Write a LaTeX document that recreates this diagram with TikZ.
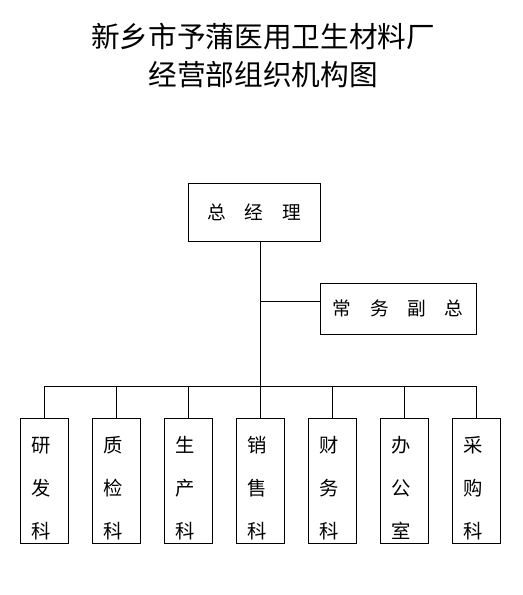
\documentclass[tikz,border=0pt]{standalone}
\usepackage{fontspec}
\setmainfont{Noto Sans CJK SC}
\usetikzlibrary{positioning}
\tikzset{
  box/.style={draw,rectangle,inner sep=0pt,line width=0.75pt,font=\fontsize{14}{16}\selectfont},
  ke/.style={box,minimum width=36pt,minimum height=93.75pt,text width=19pt,align=left,
    font=\fontsize{14.5}{32.25}\selectfont,text height=25.75pt,text depth=68pt},
  link/.style={line width=0.75pt},
}

\begin{document}
\begin{tikzpicture}[x=0.75pt,y=-0.75pt]
\useasboundingbox (0,0) rectangle (523,595);
% title
\node[font=\fontsize{21.5}{28.5}\selectfont,align=center] (title) at (263,56)
  {新乡市予蒲医用卫生材料厂\\经营部组织机构图};

% top
\node[box,minimum width=99pt,minimum height=42.75pt] (boss) at (254,212.5) {总\quad 经\quad 理};
\node[box,minimum width=117pt,minimum height=38.25pt] (vice) at (398,308.5) {常\quad 务\quad 副\quad 总};

% departments
\node[ke,anchor=north west] (rd) at (20,418) {研\\发\\科};
\node[ke,right=17.25pt of rd] (zj) {质\\检\\科};
\node[ke,right=17.25pt of zj] (sc) {生\\产\\科};
\node[ke,right=17.25pt of sc] (xs) {销\\售\\科};
\node[ke,right=17.25pt of xs] (cw) {财\\务\\科};
\node[ke,right=17.25pt of cw] (bg) {办\\公\\室};
\node[ke,right=17.25pt of bg] (cg) {采\\购\\科};
\coordinate[above=24pt of xs.north] (bus);

% lines
\draw[link] (boss.south -| bus) -- (bus);
\draw[link] ([yshift=5pt]vice.west) -- ([yshift=5pt]vice.west -| bus);
\draw[link] (rd.north |- bus) -- (cg.north |- bus);
\foreach \n in {rd,zj,sc,xs,cw,bg,cg}
  \draw[link] (\n.north) -- (\n.north |- bus);
\end{tikzpicture}
\end{document}
